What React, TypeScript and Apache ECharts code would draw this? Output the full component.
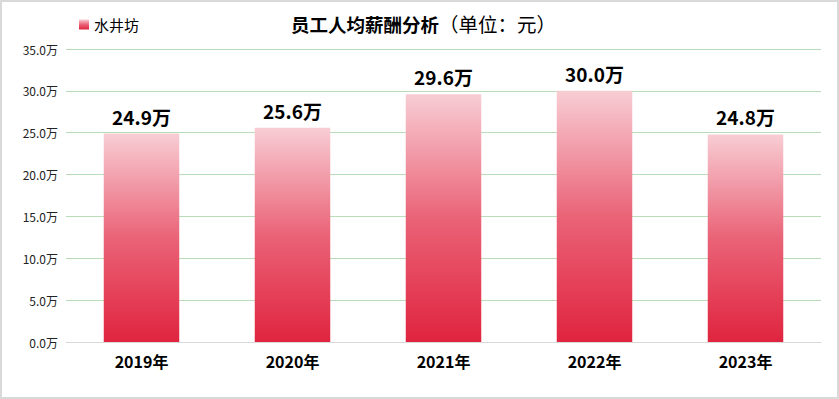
import React, { useEffect, useRef } from "react";
import * as echarts from "echarts";

const categories = ["2019年", "2020年", "2021年", "2022年", "2023年"];
const seriesName = "水井坊";
const values = [24.9, 25.6, 29.6, 30.0, 24.8];
const yTicks = [0, 5, 10, 15, 20, 25, 30, 35];

const FONT = "'Noto Sans CJK SC', 'Microsoft YaHei', sans-serif";

export default function App() {
  const ref = useRef<HTMLDivElement>(null);
  useEffect(() => {
    const chart = echarts.init(ref.current!, undefined, { renderer: "svg" });
    chart.setOption({
      animation: false,
      textStyle: { fontFamily: FONT },
      title: {
        text: "{a|员工人均薪酬分析}{b|（单位：元）}",
        left: 286,
        top: 9,
        textStyle: {
          rich: {
            a: { fontSize: 18.5, fontWeight: "bold", color: "#000", fontFamily: FONT },
            b: { fontSize: 19.5, fontWeight: "normal", color: "#000", fontFamily: FONT },
          },
        },
      },
      legend: {
        left: 74,
        top: 12,
        itemWidth: 10,
        itemHeight: 10,
        itemGap: 5,
        icon: "rect",
        textStyle: { fontSize: 15, color: "#000", fontFamily: FONT },
        data: [seriesName],
      },
      grid: { left: 66, right: 18, top: 49, bottom: 57, containLabel: false },
      xAxis: {
        type: "category",
        data: categories,
        axisLine: { lineStyle: { color: "#d9d9d9" } },
        axisTick: { show: false },
        axisLabel: { fontSize: 16, fontWeight: "bold", color: "#000", margin: 11, fontFamily: FONT },
      },
      yAxis: {
        type: "value",
        min: yTicks[0],
        max: yTicks[yTicks.length - 1],
        interval: 5,
        axisLine: { show: false },
        axisTick: { show: false },
        axisLabel: {
          fontSize: 12,
          color: "#222",
          margin: 8,
          fontFamily: FONT,
          formatter: (v: number) => v.toFixed(1) + "万",
        },
        splitLine: { lineStyle: { color: "#b9dcb9" } },
      },
      series: [
        {
          name: seriesName,
          type: "bar",
          data: values,
          barWidth: "50%",
          itemStyle: {
            color: new echarts.graphic.LinearGradient(0, 0, 0, 1, [
              { offset: 0, color: "#f8cdd4" },
              { offset: 0.5, color: "#ea6377" },
              { offset: 1, color: "#e0243f" },
            ]),
          },
          label: {
            show: true,
            position: "top",
            distance: 8,
            fontSize: 19,
            fontWeight: "bold",
            color: "#000",
            fontFamily: FONT,
            formatter: (p: any) => Number(p.value).toFixed(1) + "万",
          },
        },
      ],
    });
    return () => chart.dispose();
  }, []);
  return (
    <div
      style={{
        position: "fixed",
        left: 0,
        top: 0,
        width: 839,
        height: 399,
        boxSizing: "border-box",
        border: "2px solid #d9d9d9",
        background: "#fff",
      }}
    >
      <div ref={ref} style={{ position: "absolute", left: -2, top: -2, width: 839, height: 399 }} />
    </div>
  );
}
